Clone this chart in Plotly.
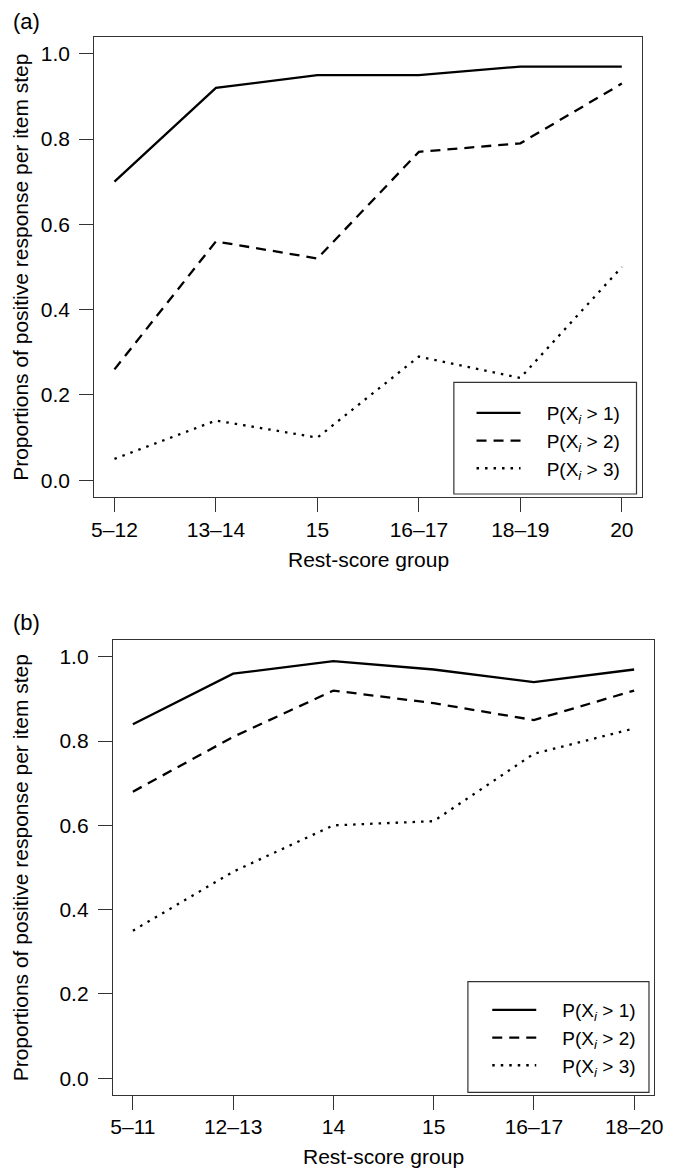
import plotly.graph_objects as go

# ---- data ----
cats_a = ["5–12", "13–14", "15", "16–17", "18–19", "20"]
a_p1 = [0.70, 0.92, 0.95, 0.95, 0.97, 0.97]
a_p2 = [0.26, 0.56, 0.52, 0.77, 0.79, 0.93]
a_p3 = [0.05, 0.14, 0.10, 0.29, 0.24, 0.50]

cats_b = ["5–11", "12–13", "14", "15", "16–17", "18–20"]
b_p1 = [0.84, 0.96, 0.99, 0.97, 0.94, 0.97]
b_p2 = [0.68, 0.81, 0.92, 0.89, 0.85, 0.92]
b_p3 = [0.35, 0.49, 0.60, 0.61, 0.77, 0.83]

series_names = ["P(X<sub><i>i</i></sub> &gt; 1)", "P(X<sub><i>i</i></sub> &gt; 2)", "P(X<sub><i>i</i></sub> &gt; 3)"]
y_ticks = [0.0, 0.2, 0.4, 0.6, 0.8, 1.0]
y_ticktext = ["0.0", "0.2", "0.4", "0.6", "0.8", "1.0"]

# page has an 8px body margin; figure is sized to fill the rest of the window
OFF = 8
W, H = 673 - OFF, 1171 - OFF
FONT = "Liberation Sans, Arial, Helvetica, sans-serif"
FS = 21
dashes = ["solid", "10px,7px", "2.5px,6px"]
LW = 2.3
GAP = "&nbsp;&nbsp;&nbsp;&nbsp;"

fig = go.Figure()

for vals, name, dash in zip([a_p1, a_p2, a_p3], series_names, dashes):
    fig.add_trace(go.Scatter(x=cats_a, y=vals, mode="lines", name=GAP + name,
                             line=dict(color="black", width=LW, dash=dash),
                             xaxis="x", yaxis="y", legend="legend"))
for vals, name, dash in zip([b_p1, b_p2, b_p3], series_names, dashes):
    fig.add_trace(go.Scatter(x=cats_b, y=vals, mode="lines", name=GAP + name,
                             line=dict(color="black", width=LW, dash=dash),
                             xaxis="x2", yaxis="y2", legend="legend2"))

def px_x(p):
    return (p - OFF) / W

def px_y(p):
    return 1 - (p - OFF) / H

# panel boxes in window pixels
A = dict(l=92.7, r=650.7, t=36.7, b=497.3)
B = dict(l=111.7, r=663.0, t=640.0, b=1095.0)

axis_common = dict(showline=True, mirror=True, linecolor="#333", linewidth=1,
                   ticks="outside", ticklen=14, tickcolor="#333", tickwidth=1,
                   showgrid=False, zeroline=False,
                   tickfont=dict(family=FONT, size=FS, color="black"))

LEG_FS = 19
fig.update_layout(
    width=W, height=H,
    margin=dict(l=0, r=0, t=0, b=0),
    paper_bgcolor="white", plot_bgcolor="white",
    font=dict(family=FONT, size=FS, color="black"),
    xaxis=dict(domain=[px_x(A["l"]), px_x(A["r"])], anchor="y", type="category",
               range=[-0.2, 5.2], ticklabelstandoff=-1, **axis_common),
    yaxis=dict(domain=[px_y(A["b"]), px_y(A["t"])], anchor="x", range=[-0.04, 1.04],
               tickvals=y_ticks, ticktext=y_ticktext, ticklabelstandoff=5, **axis_common),
    xaxis2=dict(domain=[px_x(B["l"]), px_x(B["r"])], anchor="y2", type="category",
                range=[-0.2, 5.2], ticklabelstandoff=-1, **axis_common),
    yaxis2=dict(domain=[px_y(B["b"]), px_y(B["t"])], anchor="x2", range=[-0.04, 1.04],
                tickvals=y_ticks, ticktext=y_ticktext, ticklabelstandoff=5, **axis_common),
    legend=dict(x=px_x(477), y=px_y(394), xanchor="left", yanchor="top",
                bgcolor="rgba(0,0,0,0)", borderwidth=0, itemwidth=44,
                font=dict(family=FONT, size=LEG_FS, color="black"), tracegroupgap=0),
    legend2=dict(x=px_x(493), y=px_y(991), xanchor="left", yanchor="top",
                 bgcolor="rgba(0,0,0,0)", borderwidth=0, itemwidth=44,
                 font=dict(family=FONT, size=LEG_FS, color="black"), tracegroupgap=0),
    showlegend=True,
)

# legend frames
fig.add_shape(type="rect", xref="paper", yref="paper",
              x0=px_x(459), x1=px_x(645), y0=px_y(494), y1=px_y(382.3),
              line=dict(color="#333", width=1.2), fillcolor="rgba(0,0,0,0)", layer="above")
fig.add_shape(type="rect", xref="paper", yref="paper",
              x0=px_x(473.3), x1=px_x(657.7), y0=px_y(1092.3), y1=px_y(981.7),
              line=dict(color="#333", width=1.2), fillcolor="rgba(0,0,0,0)", layer="above")

ann = []
ann.append(dict(text="(a)", x=px_x(8), y=px_y(21.7), xanchor="left", yanchor="middle", size=22))
ann.append(dict(text="(b)", x=px_x(8), y=px_y(622), xanchor="left", yanchor="middle", size=22))
ann.append(dict(text="Rest-score group", x=px_x((A["l"] + A["r"]) / 2), y=px_y(560),
                xanchor="center", yanchor="middle", size=FS))
ann.append(dict(text="Rest-score group", x=px_x((B["l"] + B["r"]) / 2), y=px_y(1156),
                xanchor="center", yanchor="middle", size=FS))
ann.append(dict(text="Proportions of positive response per item step", x=px_x(18),
                y=px_y((A["t"] + A["b"]) / 2), textangle=-90, xanchor="center",
                yanchor="middle", size=FS))
ann.append(dict(text="Proportions of positive response per item step", x=px_x(18),
                y=px_y((B["t"] + B["b"]) / 2), textangle=-90, xanchor="center",
                yanchor="middle", size=FS))
for a in ann:
    s = a.pop("size")
    a.update(xref="paper", yref="paper", showarrow=False,
             font=dict(family=FONT, size=s, color="black"))
fig.update_layout(annotations=ann)

fig.write_html("out.html")
